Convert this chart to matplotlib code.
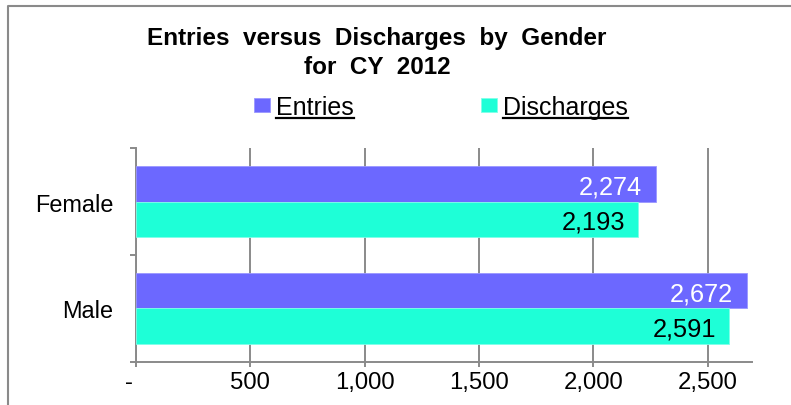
import matplotlib
matplotlib.use("Agg")
import matplotlib.pyplot as plt
from matplotlib.lines import Line2D
from matplotlib.ticker import FuncFormatter, FixedLocator

# ---- data ----
categories = ["Male", "Female"]          # bottom to top
entries = [2672, 2274]
discharges = [2591, 2193]
series_names = ["Entries", "Discharges"]
x_ticks = [0, 500, 1000, 1500, 2000, 2500]

# ---- style ----
C_ENT = "#6C68FF"
C_DIS = "#1EFFD7"
GRAY = "#8A8A8A"
W, H, DPI = 791, 406, 100
plt.rcParams["font.family"] = ["Liberation Sans", "DejaVu Sans"]

fig = plt.figure(figsize=(W / DPI, H / DPI), dpi=DPI)
ax = fig.add_axes([135.7 / W, 1 - 362.7 / H, 616 / W, 213.4 / H])

ypos = list(range(len(categories)))
bh = 0.33
off = 0.165
b1 = ax.barh([y + off for y in ypos], entries, height=bh, color=C_ENT,
             edgecolor="#9A97FF", linewidth=0.6, label=series_names[0], zorder=3)
b2 = ax.barh([y - off for y in ypos], discharges, height=bh, color=C_DIS,
             edgecolor="#7FFFE9", linewidth=0.6, label=series_names[1], zorder=3)

for y, v in zip(ypos, entries):
    ax.annotate(f"{v:,}", (v, y + off), xytext=(-10, 0), textcoords="offset points",
                ha="right", va="center_baseline", color="white", fontsize=18.3, zorder=4)
for y, v in zip(ypos, discharges):
    ax.annotate(f"{v:,}", (v, y - off), xytext=(-9, 0), textcoords="offset points",
                ha="right", va="center_baseline", color="black", fontsize=18.3, zorder=4)

ax.set_xlim(0, 2692)
ax.set_ylim(-0.5, len(categories) - 0.5)

ax.xaxis.set_major_locator(FixedLocator(x_ticks))
ax.xaxis.set_major_formatter(FuncFormatter(lambda v, p: "-  " if v == 0 else f"{int(v):,}"))
ax.tick_params(axis="x", which="major", length=3.6, width=1.4, color=GRAY,
               pad=3.0, labelsize=17.2)

ax.yaxis.set_major_locator(FixedLocator([y - 0.5 for y in range(len(categories) + 1)]))
ax.yaxis.set_major_formatter(FuncFormatter(lambda v, p: ""))
ax.yaxis.set_minor_locator(FixedLocator(ypos))
ax.yaxis.set_minor_formatter(FuncFormatter(lambda v, p: categories[int(round(v))]))
ax.tick_params(axis="y", which="major", length=4.3, width=1.4, color=GRAY)
ax.tick_params(axis="y", which="minor", length=0, pad=16, labelsize=16.9)

ax.grid(axis="x", color=GRAY, linewidth=1.4, zorder=0)
ax.set_axisbelow(True)
for s in ["top", "right"]:
    ax.spines[s].set_visible(False)
for s in ["left", "bottom"]:
    ax.spines[s].set_color(GRAY)
    ax.spines[s].set_linewidth(1.4)

# title
fig.text(377 / W, 1 - 45 / H, "Entries  versus  Discharges  by  Gender",
         ha="center", va="baseline", fontsize=17.5, fontweight="bold")
fig.text(377 / W, 1 - 74 / H, "for  CY  2012",
         ha="center", va="baseline", fontsize=17.5, fontweight="bold")

# legend
leg = fig.legend(handles=[b1, b2], loc="center left",
                 bbox_to_anchor=(254.3 / W, 1 - 108 / H), ncol=2, frameon=False,
                 fontsize=18, handlelength=0.64, handleheight=0.52,
                 handletextpad=0.24, columnspacing=5.07, borderpad=0,
                 borderaxespad=0)

# outer chart-area border (left and top visible)
fig.add_artist(Line2D([7.5 / W, 7.5 / W, 1.0], [0, 1 - 6.5 / H, 1 - 6.5 / H],
                      transform=fig.transFigure, color=GRAY, linewidth=1.5))

# underline legend texts
fig.canvas.draw()
r = fig.canvas.get_renderer()
for t in leg.get_texts():
    bb = t.get_window_extent(r)
    yy = (bb.y0 + 1.5) / H
    fig.add_artist(Line2D([bb.x0 / W, bb.x1 / W], [yy, yy], transform=fig.transFigure,
                          color="black", linewidth=1.6))

fig.savefig("out.png", dpi=DPI)
